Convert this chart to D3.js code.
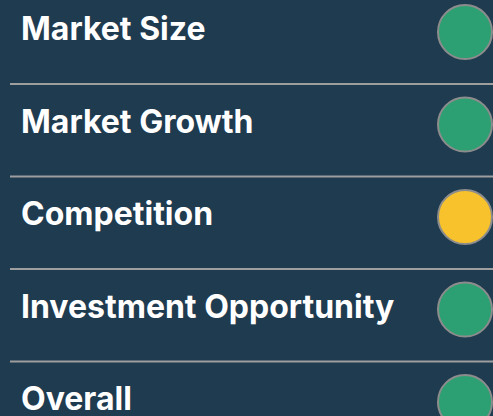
<!doctype html>
<html>
  <head>
    <meta charset="utf-8">
    <script src="https://cdn.jsdelivr.net/npm/d3@7"></script>
  <style>
    body { margin: 0; background: #1f3b50; }
    svg { display: block; }
    .label { font-family: Inter, "Noto Sans", sans-serif; font-weight: 700; fill: #ffffff; }
  </style>
  </head>
  <body>
    <svg width="493" height="416"></svg>

  <script>
    let width = 493,
        height = 416

    // rows of the scorecard, top to bottom
    let categories = ["Market Size", "Market Growth", "Competition", "Investment Opportunity", "Overall"]
    let ratings = ["good", "good", "medium", "good", "good"]

    let ratingLevels = ["good", "medium", "poor"]
    let ratingColors = ["#2ca073", "#f7c22b", "#d9534f"]

    let svg = d3.select("svg")

    svg.append("rect")
        .attr("width", width)
        .attr("height", height)
        .attr("fill", "#1f3b50")

    let y = d3.scalePoint()
              .domain(categories)
              .range([32, 402])

    let cScale = d3.scaleOrdinal()
                   .domain(ratingLevels)
                   .range(ratingColors)

    let rows = svg.append("g")
        .selectAll("g")
        .data(categories.map((c, i) => ({ name: c, rating: ratings[i] })))
        .enter().append("g")
          .attr("transform", d => "translate(0," + y(d.name) + ")")

    rows.append("text")
        .attr("class", "label")
        .attr("x", 21)
        .attr("y", 0)
        .attr("dy", "0.25em")
        .attr("font-size", 32)
        .text(d => d.name)

    rows.append("circle")
        .attr("cx", 465)
        .attr("cy", 0)
        .attr("r", 27)
        .attr("fill", d => cScale(d.rating))
        .attr("stroke", "#8c8c8c")
        .attr("stroke-width", 2)

    // separators between rows
    svg.append("g")
      .selectAll("line")
      .data(categories.slice(0, -1))
      .enter().append("line")
        .attr("x1", 10)
        .attr("x2", width)
        .attr("y1", d => y(d) + 52)
        .attr("y2", d => y(d) + 52)
        .attr("stroke", "#9e9e9e")
        .attr("stroke-width", 2)

  </script>
  </body>
</html>
